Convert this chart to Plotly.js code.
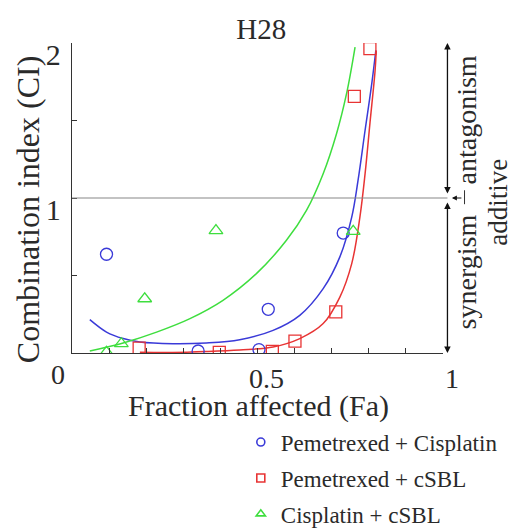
<!DOCTYPE html>
<html>
<head>
<meta charset="utf-8">
<script src="https://cdn.plot.ly/plotly-3.0.1.min.js"></script>
<style>html,body{margin:0;padding:0;background:#fff;}#chart{width:512px;height:532px;}</style>
</head>
<body>
<div id="chart"></div>
<script>
// Data points
const pcX = [0.093, 0.34, 0.504, 0.529, 0.731];
const pcY = [0.637, 0.013, 0.022, 0.282, 0.774];
const psX = [0.181, 0.397, 0.54, 0.601, 0.711, 0.761, 0.803];
const psY = [0.032, 0.004, 0.01, 0.077, 0.265, 1.656, 1.964];
const csX = [0.093, 0.133, 0.196, 0.388, 0.758];
const csY = [0.005, 0.06, 0.35, 0.79, 0.785];

// Fitted curves
const pcCurveX = [0.048, 0.093, 0.138, 0.183, 0.272, 0.362, 0.452, 0.542, 0.614, 0.677, 0.722, 0.754, 0.771, 0.790, 0.808, 0.819];
const pcCurveY = [0.215, 0.135, 0.093, 0.071, 0.06, 0.065, 0.086, 0.146, 0.243, 0.415, 0.62, 0.877, 1.114, 1.437, 1.738, 1.953];
const psCurveX = [0.183, 0.272, 0.362, 0.452, 0.542, 0.614, 0.677, 0.722, 0.754, 0.776, 0.790, 0.803, 0.817, 0.820];
const psCurveY = [0.005, 0.004, 0.01, 0.02, 0.039, 0.093, 0.19, 0.361, 0.577, 0.877, 1.157, 1.48, 1.824, 1.95];
const csCurveX = [0.048, 0.138, 0.228, 0.318, 0.407, 0.497, 0.578, 0.632, 0.677, 0.713, 0.740, 0.763];
const csCurveY = [0.013, 0.065, 0.135, 0.222, 0.34, 0.512, 0.727, 0.92, 1.157, 1.415, 1.673, 1.974];

const seriesNames = ['Pemetrexed + Cisplatin', 'Pemetrexed + cSBL', 'Cisplatin + cSBL'];
const xTickVals = [0, 0.1, 0.2, 0.3, 0.4, 0.5, 0.6, 0.7, 0.8, 0.9, 1];
const xTickText = ['', '', '', '', '', '0.5', '', '', '', '', '1'];
const yTickVals = [0, 0.5, 1, 1.5, 2];
const yTickText = ['', '', '1', '', '2'];
const originLabel = '0';
const xTitle = 'Fraction affected (Fa)';
const yTitle = 'Combination index (CI)';

const BLUE = '#3a3ad8', RED = '#e83434', GREEN = '#3ede3e';
const SERIF = 'Liberation Serif, Times New Roman, Times, serif';
const TXT = '#2a2a2a';

const traces = [
  {x: pcCurveX, y: pcCurveY, mode: 'lines', line: {color: BLUE, width: 1.5, shape: 'spline'}, showlegend: false, hoverinfo: 'skip'},
  {x: psCurveX, y: psCurveY, mode: 'lines', line: {color: RED, width: 1.5, shape: 'spline'}, showlegend: false, hoverinfo: 'skip'},
  {x: csCurveX, y: csCurveY, mode: 'lines', line: {color: GREEN, width: 1.5, shape: 'spline'}, showlegend: false, hoverinfo: 'skip'},
  {x: pcX, y: pcY, mode: 'markers', marker: {symbol: 'circle-open', size: 12, color: BLUE, line: {width: 1.3}}, showlegend: false},
  {x: psX, y: psY, mode: 'markers', marker: {symbol: 'square-open', size: 12, color: RED, line: {width: 1.3}}, showlegend: false},
  {x: csX, y: csY, mode: 'markers', marker: {symbol: 'triangle-up-open', size: 12, color: GREEN, line: {width: 1.3}}, showlegend: false},
  {x: [null], y: [null], name: seriesNames[0], legendgroup: 'a', mode: 'markers', marker: {symbol: 'circle-open', size: 8, color: BLUE, line: {width: 1.6}}},
  {x: [null], y: [null], name: seriesNames[1], legendgroup: 'b', mode: 'markers', marker: {symbol: 'square-open', size: 8, color: RED, line: {width: 1.6}}},
  {x: [null], y: [null], name: seriesNames[2], legendgroup: 'c', mode: 'markers', marker: {symbol: 'triangle-up-open', size: 8, color: GREEN, line: {width: 1.6}}}
];

const bx = 1.012;
const layout = {
  width: 512, height: 532,
  margin: {l: 72, r: 69, t: 43, b: 179, autoexpand: false},
  paper_bgcolor: '#fff', plot_bgcolor: '#fff',
  font: {family: SERIF, color: TXT},
  title: {text: 'H28', font: {family: SERIF, size: 29, color: TXT}, x: 0.51, xref: 'paper', y: 1, yref: 'paper', yanchor: 'bottom', pad: {b: 4}},
  xaxis: {
    range: [0, 1], tickvals: xTickVals, ticktext: xTickText,
    ticks: 'inside', ticklen: 5, tickcolor: '#333', showgrid: false, zeroline: false,
    showline: true, linecolor: '#333', linewidth: 1.2,
    tickfont: {family: SERIF, size: 28, color: TXT}, ticklabelshift: 9, ticklabelstandoff: 0
  },
  yaxis: {
    range: [0, 2], tickvals: yTickVals, ticktext: yTickText,
    ticks: 'inside', ticklen: 5, tickcolor: '#333', showgrid: false, zeroline: false,
    showline: true, linecolor: '#333', linewidth: 1.2,
    tickfont: {family: SERIF, size: 30, color: TXT}, ticklabelshift: 11, ticklabelstandoff: 4
  },
  legend: {
    x: 0.455, xanchor: 'left', y: -0.218, yanchor: 'top',
    font: {family: SERIF, size: 23, color: TXT},
    tracegroupgap: 3, itemwidth: 30, bgcolor: 'rgba(0,0,0,0)'
  },
  shapes: [
    {type: 'line', xref: 'paper', yref: 'y', x0: 0, x1: bx, y0: 1, y1: 1, line: {color: '#888', width: 1.2}},
    {type: 'line', xref: 'paper', yref: 'y', x0: 1.058, x1: 1.058, y0: 0.96, y1: 1.05, line: {color: '#333', width: 1}}
  ],
  annotations: [
    {xref: 'paper', yref: 'y', axref: 'paper', ayref: 'y', x: bx, y: 2, ax: bx, ay: 1.02, showarrow: true, arrowhead: 2, arrowside: 'end+start', arrowsize: 1, arrowwidth: 1.3, arrowcolor: '#111', text: ''},
    {xref: 'paper', yref: 'y', axref: 'paper', ayref: 'y', x: bx, y: 0, ax: bx, ay: 0.98, showarrow: true, arrowhead: 2, arrowside: 'end+start', arrowsize: 1, arrowwidth: 1.3, arrowcolor: '#111', text: ''},
    {xref: 'paper', yref: 'y', x: 1.024, y: 1, ax: 11, ay: 0, showarrow: true, arrowhead: 2, arrowsize: 1, arrowwidth: 1, arrowcolor: '#111', text: ''},
    {xref: 'paper', yref: 'y', x: 1.062, xanchor: 'center', y: 1.5, text: 'antagonism', textangle: -90, showarrow: false, font: {family: SERIF, size: 28, color: TXT}},
    {xref: 'paper', yref: 'y', x: 1.062, xanchor: 'center', y: 0.52, text: 'synergism', textangle: -90, showarrow: false, font: {family: SERIF, size: 28, color: TXT}},
    {xref: 'paper', yref: 'y', x: 1.146, xanchor: 'center', y: 0.97, text: 'additive', textangle: -90, showarrow: false, font: {family: SERIF, size: 27, color: TXT}},
    {xref: 'paper', yref: 'paper', x: -0.038, y: -0.07, xanchor: 'center', yanchor: 'middle', text: originLabel, showarrow: false, font: {family: SERIF, size: 28, color: TXT}},
    {xref: 'paper', yref: 'paper', x: 0.504, y: (352.7 - 406) / 309.7, xanchor: 'center', yanchor: 'middle', text: xTitle, showarrow: false, font: {family: SERIF, size: 30, color: TXT}},
    {xref: 'paper', yref: 'paper', x: (28 - 72) / 371, y: (352.7 - 209) / 309.7, xanchor: 'center', yanchor: 'middle', text: yTitle, textangle: -90, showarrow: false, font: {family: SERIF, size: 32, color: TXT}}
  ]
};

Plotly.newPlot('chart', traces, layout, {displayModeBar: false, staticPlot: true});
</script>
</body>
</html>
